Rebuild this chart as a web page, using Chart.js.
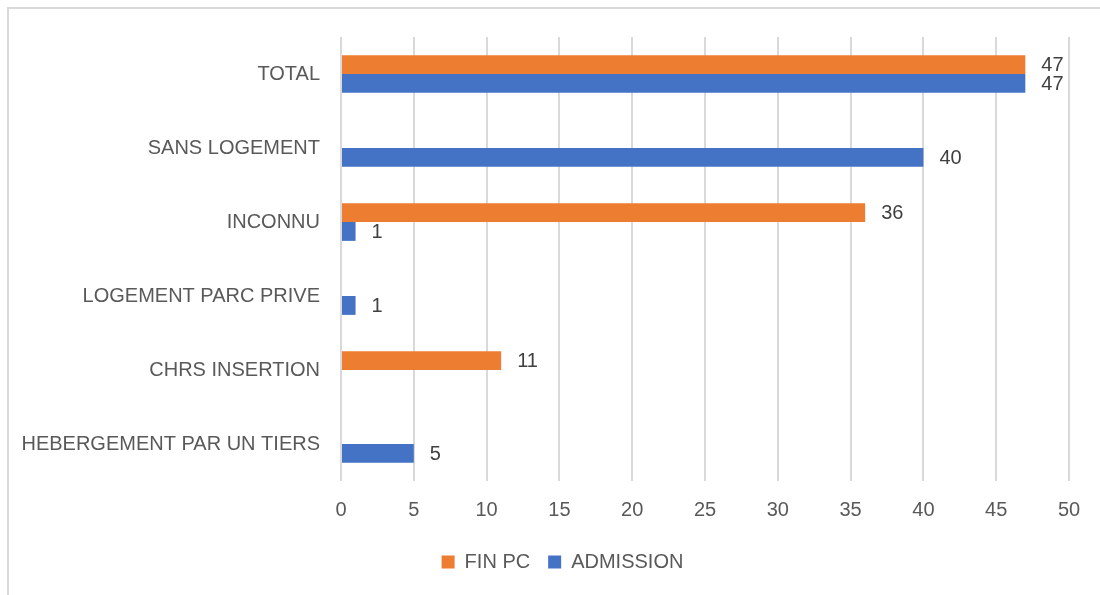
<!DOCTYPE html>
<html>
<head>
<meta charset="utf-8">
<script src="https://cdn.jsdelivr.net/npm/chart.js@4.4.1/dist/chart.umd.min.js"></script>
<style>
  html, body { margin: 0; padding: 0; background: #ffffff; }
  #wrap { position: relative; width: 1100px; height: 595px; overflow: hidden; }
  #frame { position: absolute; left: 7px; top: 7px; width: 1200px; height: 700px;
           border-left: 2px solid #d9d9d9; border-top: 2px solid #d9d9d9; box-sizing: border-box; }
  canvas { position: absolute; left: 0; top: 0; }
</style>
</head>
<body>
<div id="wrap">
  <div id="frame"></div>
  <canvas id="c" width="1100" height="595"></canvas>
</div>
<script>
const categories = ["TOTAL", "SANS LOGEMENT", "INCONNU", "LOGEMENT PARC PRIVE", "CHRS INSERTION", "HEBERGEMENT PAR UN TIERS"];
const finPC = [47, null, 36, null, 11, null];
const admission = [47, 40, 1, 1, null, 5];
const seriesNames = ["FIN PC", "ADMISSION"];
const xTicks = [0, 5, 10, 15, 20, 25, 30, 35, 40, 45, 50];

const FONT = "'Liberation Sans', Arial, sans-serif";
const FSIZE = 20;
const TEXT = "#595959";

const valueLabels = {
  id: "valueLabels",
  afterDatasetsDraw(chart) {
    const ctx = chart.ctx;
    ctx.save();
    ctx.font = FSIZE + "px " + FONT;
    ctx.fillStyle = "#404040";
    ctx.textAlign = "left";
    ctx.textBaseline = "middle";
    chart.data.datasets.forEach((ds, i) => {
      const meta = chart.getDatasetMeta(i);
      meta.data.forEach((el, j) => {
        const v = ds.data[j];
        if (v === null || v === undefined) return;
        ctx.fillText(String(v), el.x + 16, el.y + 1);
      });
    });
    ctx.restore();
  }
};

const legendShift = {
  id: "legendShift",
  afterLayout(chart) {
    if (chart.legend) { chart.legend.left += 28; chart.legend.right += 28; }
  }
};

new Chart(document.getElementById("c"), {
  type: "bar",
  data: {
    labels: categories,
    datasets: [
      { label: seriesNames[0], data: finPC, backgroundColor: "#ED7D31", borderWidth: 0,
        barPercentage: 1.0, categoryPercentage: 0.51 },
      { label: seriesNames[1], data: admission, backgroundColor: "#4472C4", borderWidth: 0,
        barPercentage: 1.0, categoryPercentage: 0.51 }
    ]
  },
  options: {
    indexAxis: "y",
    responsive: false,
    animation: false,
    layout: { padding: { top: 37, right: 31, left: 0, bottom: 13 } },
    scales: {
      x: {
        min: 0, max: 50,
        afterBuildTicks(scale) { scale.ticks = xTicks.map(v => ({ value: v })); },
        afterFit(scale) { scale.height = 53; },
        grid: { color: "#d9d9d9", lineWidth: 2, drawTicks: false },
        border: { display: false },
        ticks: { color: TEXT, font: { family: FONT, size: FSIZE }, padding: 17 }
      },
      y: {
        afterFit(scale) { scale.width = 341; },
        grid: { display: false, drawTicks: false },
        border: { display: false },
        ticks: { color: TEXT, font: { family: FONT, size: FSIZE }, padding: 21 }
      }
    },
    plugins: {
      legend: {
        position: "bottom",
        labels: { color: TEXT, font: { family: FONT, size: FSIZE }, boxWidth: 13, boxHeight: 13, padding: 18 }
      },
      tooltip: { enabled: false }
    }
  },
  plugins: [valueLabels, legendShift]
});
</script>
</body>
</html>
